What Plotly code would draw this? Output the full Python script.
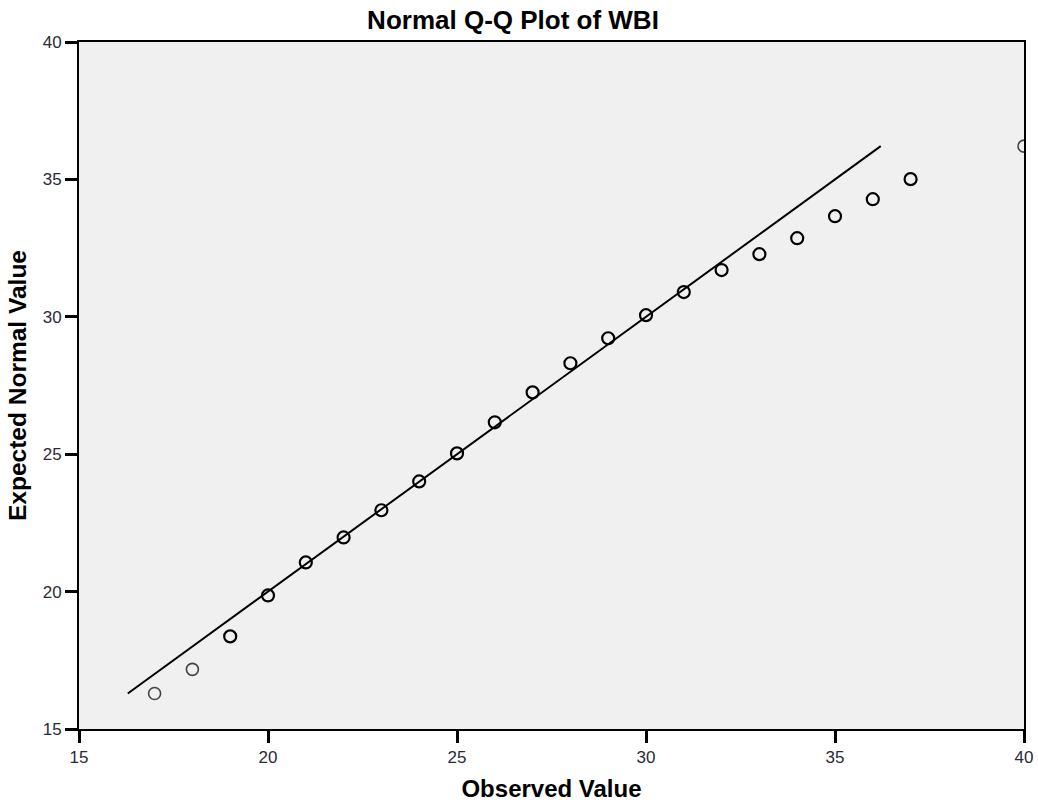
import plotly.graph_objects as go

observed = [17, 18, 19, 20, 21, 22, 23, 24, 25, 26, 27, 28, 29, 30, 31, 32, 33, 34, 35, 36, 37, 40]
expected = [16.29, 17.17, 18.37, 19.86, 21.06, 21.97, 22.96, 24.01, 25.03, 26.16, 27.25, 28.31,
            29.22, 30.06, 30.90, 31.70, 32.28, 32.86, 33.66, 34.28, 35.01, 36.21]
light_points = [17, 18, 40]

FONT = "Liberation Sans, Arial, sans-serif"

dark_x = [o for o in observed if o not in light_points]
dark_y = [e for o, e in zip(observed, expected) if o not in light_points]
light_x = [o for o in observed if o in light_points]
light_y = [e for o, e in zip(observed, expected) if o in light_points]

lo, hi = min(expected), max(expected)

fig = go.Figure()
fig.add_trace(go.Scatter(x=[lo, hi], y=[lo, hi], mode="lines",
                         line=dict(color="black", width=2), showlegend=False, hoverinfo="skip"))
fig.add_trace(go.Scatter(x=light_x, y=light_y, mode="markers",
                         marker=dict(symbol="circle-open", size=12, color="#444444",
                                     line=dict(width=1.6, color="#444444")),
                         showlegend=False, cliponaxis=True))
fig.add_trace(go.Scatter(x=dark_x, y=dark_y, mode="markers",
                         marker=dict(symbol="circle-open", size=12, color="black",
                                     line=dict(width=2.2, color="black")),
                         showlegend=False, cliponaxis=True))

axis_common = dict(showline=True, linecolor="black", linewidth=2, mirror=True,
                   ticks="outside", ticklen=12, tickwidth=3, tickcolor="black",
                   showgrid=False, zeroline=False, dtick=5, automargin=False,
                   tickfont=dict(family=FONT, size=17, color="#2a2a3a"))

fig.update_layout(
    width=1038, height=802,
    margin=dict(l=79, r=14, t=42, b=73),
    paper_bgcolor="white", plot_bgcolor="#f0f0f0",
    title=dict(text="<b>Normal Q-Q Plot of WBI</b>", x=513 / 1038, xanchor="center",
               y=1 - 20 / 802, yanchor="middle",
               font=dict(family=FONT, size=26, color="black")),
    xaxis=dict(range=[15, 40], tick0=15,
               title=dict(text="<b>Observed Value</b>", standoff=15,
                          font=dict(family=FONT, size=24, color="black")),
               **axis_common),
    yaxis=dict(range=[15, 40], tick0=15, ticklabelstandoff=0,
               title=dict(text="<b>Expected Normal Value</b>", standoff=9,
                          font=dict(family=FONT, size=24.5, color="black")),
               **axis_common),
)

fig.write_html("out.html")
